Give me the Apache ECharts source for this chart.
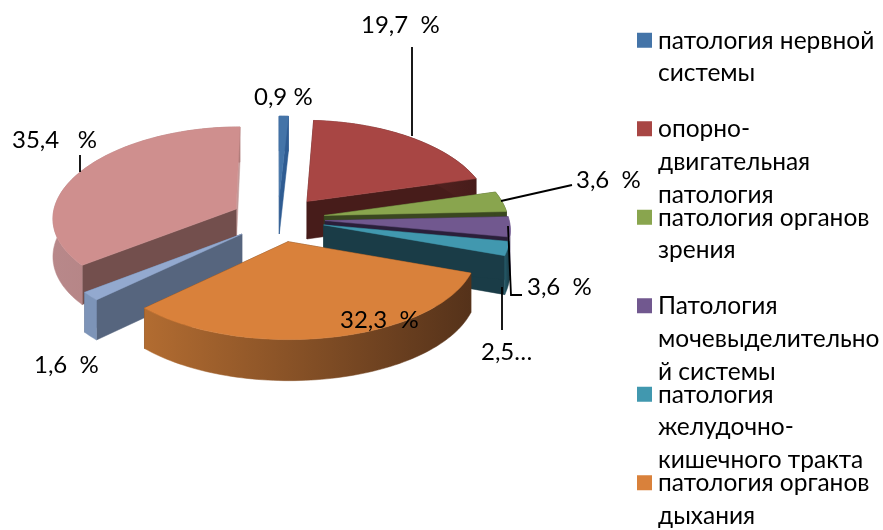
<!DOCTYPE html>
<html><head><meta charset="utf-8">
<style>html,body{margin:0;padding:0;background:#fff}#c{width:883px;height:530px}</style>
<script src="https://cdn.jsdelivr.net/npm/echarts@6/dist/echarts.min.js"></script>
</head><body><div id="c"></div>
<script>
const categories=['патология нервной системы','опорно-двигательная патология','патология органов зрения','Патология мочевыделительной системы','патология желудочно-кишечного тракта','патология органов дыхания','патология кожи','прочие'];
const values=[0.9,19.7,3.6,3.6,2.5,32.3,1.6,35.4];
const valueLabels=['0,9 %','19,7  %','3,6  %','3,6  %','2,5…','32,3  %','1,6  %','35,4   %'];
const legendLines=[['патология нервной','системы'],['опорно-','двигательная','патология'],['патология органов','зрения'],['Патология','мочевыделительно','й системы'],['патология','желудочно-','кишечного тракта'],['патология органов','дыхания']];
const topColors=['#4474a8','#a84644','#89a54e','#71588f','#4198af','#d9813b','#93a9cf','#cf8f8e'];
const cutColors=['#2f5c92','#471c1a','#3a4720','#2a1f3a','#1a3c47','#5a3517','#56657e','#734f4d'];
const endCutColors=['#2f5c92','#471c1a','#3a4720','#2a1f3a','#1a3c47','#5a3517','#56657e','#c39a99'];
const wallFrom=['#2f5c92','#6e2f2d','#3a4720','#b6a6cf','#245a68','#b26c31','#7d94b8','#b8888a'];
const wallTo=['#2f5c92','#471c1a','#3a4720','#8a78a8','#1a3c47','#55321a','#7d94b8','#ae7b79'];
const drawOrder=[0,1,2,3,4,7,6,5];
const labelBoxes=[[254,97],[361,25],[576,180],[527,287],[481,352],[340,320],[34,365],[12,140]];
const leaders=[[[412,47],[412,136]],[[572,185],[501,201]],[[508,226],[511,295],[522,295]],[[502,287],[502,330]],[[80,155],[80,172]]];

const cx=278,cy=219,R=184,K=0.485,H=38,EXPL=47,PX=0.09,PY=0.065;
const total=values.reduce((a,b)=>a+b,0);
let run=0;const cum=values.map(v=>{const c=run;run+=v;return c;});
function project(wx,wz,h){
  const sx=1+PX*wz/R,sy=1+PY*wz/R;
  return [cx+wx*sx,cy+wz*K*sy+h*H*sy];
}
function renderSlice(i){
  return function(params,api){
    const val=api.value(0),st=api.value(1);
    const a0=st/total*2*Math.PI,a1=(st+val)/total*2*Math.PI,b=(a0+a1)/2;
    const ox=EXPL*Math.sin(b),oz=-EXPL*Math.cos(b);
    const pt=(a,r,h)=>project(ox+r*Math.sin(a),oz-r*Math.cos(a),h);
    const n=Math.max(2,Math.ceil((a1-a0)/(Math.PI/120)));
    const top=[],bot=[];
    for(let j=0;j<=n;j++){const a=a0+(a1-a0)*j/n;top.push(pt(a,R,0));bot.push(pt(a,R,1));}
    const ap=pt(0,0,0),apb=pt(0,0,1);
    const wallFill=new echarts.graphic.LinearGradient(0,0,1,0,[{offset:0,color:wallFrom[i]},{offset:1,color:wallTo[i]}]);
    const poly=(points,fill)=>({type:'polygon',shape:{points},style:{fill,stroke:fill,lineWidth:0.5}});
    return {type:'group',children:[
      poly([ap,top[n],bot[n],apb],endCutColors[i]),
      poly([ap,top[0],bot[0],apb],cutColors[i]),
      poly(top.concat(bot.slice().reverse()),wallFill),
      poly([ap].concat(top),topColors[i])
    ]};
  };
}
const series=categories.map((name,i)=>({
  name,type:'custom',coordinateSystem:'none',silent:true,
  z:2+drawOrder.indexOf(i),
  itemStyle:{color:topColors[i]},
  renderItem:renderSlice(i),
  data:[[values[i],cum[i]]]
}));
const FONT='Lato';
const legend=legendLines.map((lines,i)=>{
  const h=(lines.length-1)*32.7+16;
  return {
    orient:'vertical',left:637,top:24.5+i*88.5,
    itemWidth:15,itemHeight:h,itemGap:0,padding:0,
    data:[{name:categories[i],icon:'path://M0 0H15V15H0Z M0 '+h+'L0 '+h+'L0 '+h+'Z'}],
    formatter:()=>lines.join('\n'),
    selectedMode:false,
    textStyle:{fontFamily:FONT,fontSize:24.5,color:'#000',lineHeight:32.7,padding:[0,0,0,1]}
  };
});
const graphic=valueLabels.map((t,i)=>({type:'text',z:50,left:labelBoxes[i][0],top:labelBoxes[i][1]-12,style:{text:t,font:'24px '+FONT,fill:'#000'}}))
 .concat(leaders.map(p=>({type:'polyline',z:49,shape:{points:p},style:{stroke:'#000',lineWidth:1.8,fill:null}})));
const chart=echarts.init(document.getElementById('c'),null,{renderer:'canvas'});
chart.setOption({animation:false,backgroundColor:'#fff',legend,series,graphic});
</script></body></html>
